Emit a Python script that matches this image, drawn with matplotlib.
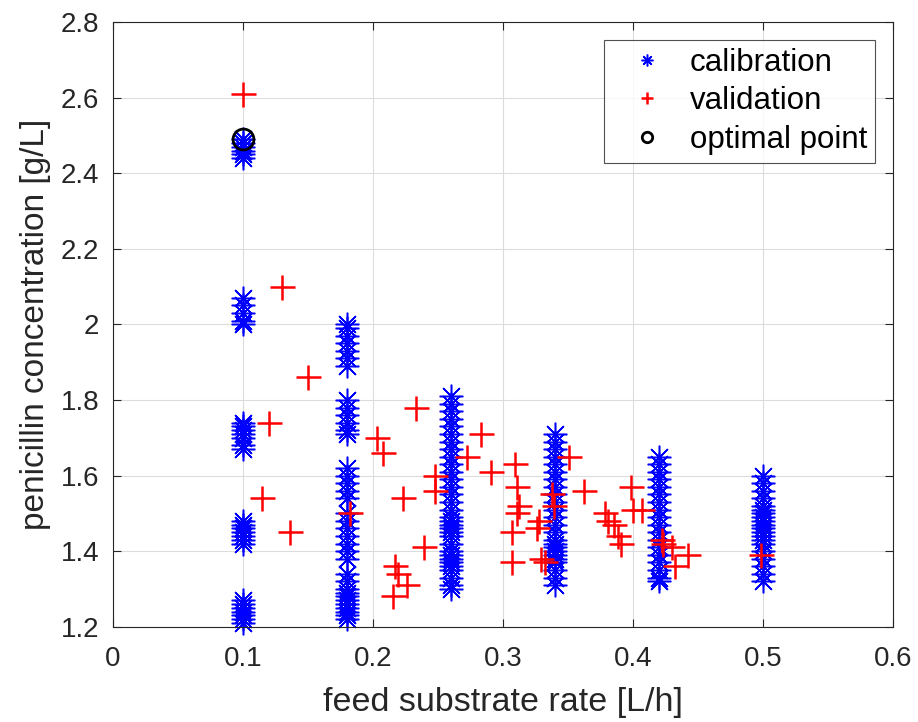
import numpy as np
import matplotlib
matplotlib.use("Agg")
from matplotlib import pyplot as plt

# calibration runs: one column of concentrations per feed rate
cal_rates = [0.10, 0.18, 0.26, 0.34, 0.42, 0.50]
cal_conc = [
    [2.49, 2.48, 2.47, 2.46, 2.45, 2.44,
     2.07, 2.05, 2.03, 2.01, 2.00,
     1.74, 1.73, 1.72, 1.71, 1.70, 1.68, 1.67,
     1.48, 1.47, 1.46, 1.45, 1.44, 1.43, 1.42,
     1.27, 1.26, 1.25, 1.24, 1.23, 1.22, 1.21],
    [2.00, 1.99, 1.97, 1.95, 1.93, 1.91, 1.89,
     1.80, 1.78, 1.76, 1.74, 1.72, 1.71,
     1.62, 1.60, 1.58, 1.56, 1.54,
     1.50, 1.48, 1.46, 1.44, 1.42, 1.40, 1.38,
     1.34, 1.32, 1.30, 1.29, 1.28, 1.27, 1.26, 1.25, 1.24, 1.23, 1.22],
    [1.81, 1.79, 1.77, 1.75, 1.73, 1.71, 1.69, 1.67, 1.65, 1.63, 1.61,
     1.59, 1.57, 1.55, 1.53, 1.51, 1.49, 1.48, 1.47, 1.46, 1.45, 1.44,
     1.42, 1.40, 1.39, 1.38, 1.37, 1.36, 1.35, 1.33, 1.31, 1.30],
    [1.71, 1.69, 1.67, 1.65, 1.63, 1.61, 1.59, 1.57, 1.55, 1.53, 1.51,
     1.49, 1.47, 1.45, 1.43, 1.42, 1.41, 1.40, 1.39, 1.38, 1.37, 1.35,
     1.33, 1.31],
    [1.65, 1.63, 1.61, 1.59, 1.57, 1.55, 1.53, 1.51, 1.49, 1.47, 1.45,
     1.43, 1.41, 1.39, 1.37, 1.35, 1.33, 1.32],
    [1.60, 1.58, 1.56, 1.54, 1.52, 1.51, 1.50, 1.49, 1.48, 1.47, 1.46,
     1.45, 1.44, 1.43, 1.42, 1.40, 1.38, 1.36, 1.34, 1.32],
]

# validation runs
val_rate = [0.100, 0.130, 0.150, 0.120, 0.136, 0.115, 0.182, 0.203, 0.208,
            0.233, 0.223, 0.248, 0.248, 0.239, 0.217, 0.219, 0.226, 0.215,
            0.272, 0.283, 0.291, 0.309, 0.311, 0.312, 0.311, 0.307, 0.307,
            0.328, 0.326, 0.329, 0.332, 0.338, 0.339, 0.351, 0.362, 0.378,
            0.381, 0.385, 0.391, 0.388, 0.398, 0.400, 0.407, 0.422, 0.423,
            0.430, 0.432, 0.442, 0.498]
val_conc = [2.61, 2.10, 1.86, 1.74, 1.45, 1.54, 1.50, 1.70, 1.66,
            1.78, 1.54, 1.60, 1.56, 1.41, 1.36, 1.34, 1.31, 1.28,
            1.65, 1.71, 1.61, 1.63, 1.57, 1.52, 1.50, 1.45, 1.37,
            1.48, 1.46, 1.38, 1.37, 1.55, 1.52, 1.65, 1.56, 1.50,
            1.48, 1.47, 1.42, 1.44, 1.57, 1.51, 1.51, 1.43, 1.42,
            1.41, 1.36, 1.39, 1.39]

opt_rate = [0.10]
opt_conc = [2.49]

plt.rcParams["font.family"] = ["Liberation Sans", "DejaVu Sans"]

fig = plt.figure(figsize=(9.18, 7.22), dpi=100)
ax = fig.add_axes([0.123, 0.132, 0.850, 0.8375])

cal_x = np.concatenate([[r] * len(c) for r, c in zip(cal_rates, cal_conc)])
cal_y = np.concatenate(cal_conc)

asterisk = (8, 2, 0)
ax.plot(cal_x, cal_y, linestyle="none", marker=asterisk, markersize=17,
        markeredgecolor="#0000ff", markeredgewidth=1.1, label="calibration",
        clip_on=False)
ax.plot(val_rate, val_conc, linestyle="none", marker="+", markersize=18,
        markeredgecolor="#ff0000", markeredgewidth=1.8, label="validation",
        clip_on=False)
ax.plot(opt_rate, opt_conc, linestyle="none", marker="o", markersize=15,
        markerfacecolor="none", markeredgecolor="black", markeredgewidth=2,
        label="optimal point", clip_on=False)

ax.set_xlim(0, 0.6)
ax.set_ylim(1.2, 2.8)
ax.set_xticks(np.arange(0, 0.61, 0.1))
ax.set_xticklabels(["0", "0.1", "0.2", "0.3", "0.4", "0.5", "0.6"])
ax.set_yticks(np.arange(1.2, 2.81, 0.2))
ax.set_yticklabels(["1.2", "1.4", "1.6", "1.8", "2", "2.2", "2.4", "2.6", "2.8"])
ax.tick_params(direction="in", top=True, right=True, labelsize=20,
               length=6, width=0.8, colors="#262626")
ax.tick_params(axis="x", pad=14)
ax.tick_params(axis="y", pad=10)
ax.grid(True, color="#dcdcdc", linewidth=0.8)
ax.set_axisbelow(True)
for s in ax.spines.values():
    s.set_color("#262626")
    s.set_linewidth(0.8)

ax.set_xlabel("feed substrate rate [L/h]", fontsize=24.5, color="#262626",
              labelpad=11)
ax.set_ylabel("penicillin concentration [g/L]", fontsize=24, color="#262626",
              labelpad=7)

# legend markers are drawn small, as in the original
leg = ax.legend(loc="upper right", fontsize=22.5, frameon=True, fancybox=False,
                edgecolor="#262626", borderaxespad=0.58, handletextpad=0.26,
                handlelength=2.24, markerscale=0.5, borderpad=0.25,
                labelspacing=0.27)
leg.get_frame().set_linewidth(0.8)

fig.savefig("out.png", dpi=100)
